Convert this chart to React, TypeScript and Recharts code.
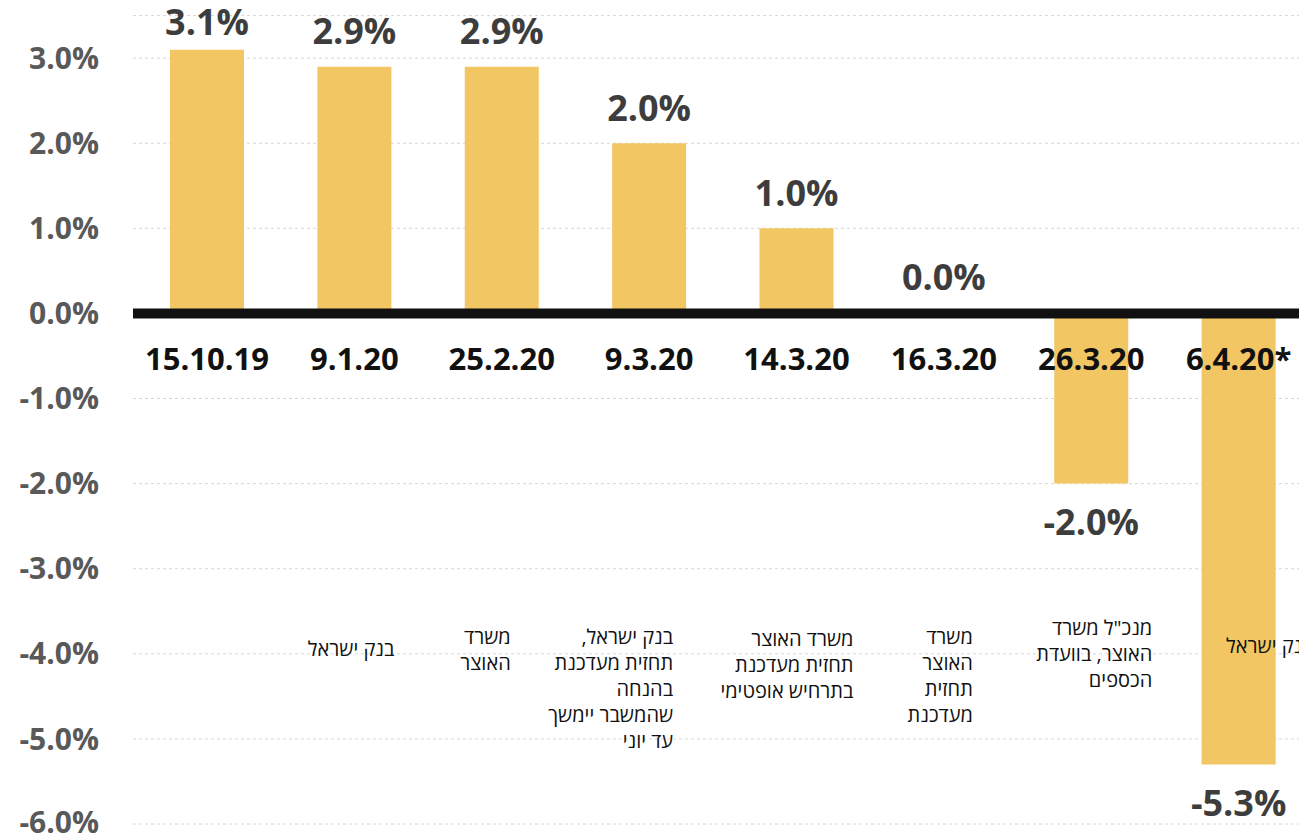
import React from "react";
import {
  BarChart,
  Bar,
  XAxis,
  YAxis,
  CartesianGrid,
  ReferenceLine,
  LabelList,
} from "recharts";

const dates = [
  "15.10.19",
  "9.1.20",
  "25.2.20",
  "9.3.20",
  "14.3.20",
  "16.3.20",
  "26.3.20",
  "6.4.20*",
];

const growth = [3.1, 2.9, 2.9, 2.0, 1.0, 0.0, -2.0, -5.3];

const sources = [
  [],
  ["בנק ישראל"],
  ["משרד", "האוצר"],
  ["בנק ישראל,", "תחזית מעדכנת", "בהנחה", "שהמשבר יימשך", "עד יוני"],
  ["משרד האוצר", "תחזית מעדכנת", "בתרחיש אופטימי"],
  ["משרד", "האוצר", "תחזית", "מעדכנת"],
  ['מנכ"ל משרד', "האוצר, בוועדת", "הכספים"],
  ["בנק ישראל"],
];

const yTicks = [3, 2, 1, 0, -1, -2, -3, -4, -5, -6];

// where each source note sits: right edge from bar centre, first line from the zero line
const noteLayout = [
  { dx: 0, dy: 0 },
  { dx: 40, dy: 336 },
  { dx: 9, dy: 324 },
  { dx: 24, dy: 324 },
  { dx: 57, dy: 326 },
  { dx: 29, dy: 324 },
  { dx: 61, dy: 315 },
  { dx: 74, dy: 333 },
];

const data = dates.map((d, i) => ({ date: d, growth: growth[i] }));

const FONT = "'Open Sans', 'Noto Sans', sans-serif";

// geometry of the bar a label belongs to; i is looked up from the date
const barBox = (p: any) => {
  const vb = p.viewBox && p.viewBox.width !== undefined ? p.viewBox : p;
  const x = Number(vb.x);
  const y = Number(vb.y);
  const w = Number(vb.width);
  const h = Number(vb.height) || 0;
  const top = Math.min(y, y + h);
  const bottom = Math.max(y, y + h);
  const i = dates.indexOf(String(p.value));
  const v = growth[i];
  return { i, cx: x + w / 2, top, bottom, base: v >= 0 ? bottom : top, v };
};

const renderValue = (p: any) => {
  const { i, cx, top, bottom, v } = barBox(p);
  if (i < 0) return null;
  const cy = v >= 0 ? Math.max(top - 35, 22.5) : bottom + 38.5;
  return (
    <text
      key={`v-${i}`}
      x={cx}
      y={cy}
      dy="0.35em"
      textAnchor="middle"
      fontFamily={FONT}
      fontSize={36}
      fontWeight={700}
      fill="#3d3d3d"
    >
      {`${v.toFixed(1)}%`}
    </text>
  );
};

const renderDate = (p: any) => {
  const { i, cx, base } = barBox(p);
  if (i < 0) return null;
  return (
    <text
      key={`d-${i}`}
      x={cx}
      y={base + 46}
      dy="0.35em"
      textAnchor="middle"
      fontFamily={FONT}
      fontSize={31}
      fontWeight={700}
      fill="#111"
    >
      {dates[i]}
    </text>
  );
};

const renderNote = (p: any) => {
  const { i, cx, base } = barBox(p);
  if (i < 0) return null;
  const lines = sources[i];
  const lay = noteLayout[i];
  if (!lines.length) return null;
  return (
    <g key={`n-${i}`}>
      {lines.map((line, j) => (
        <text
          key={j}
          x={cx + lay.dx}
          y={base + lay.dy + j * 26}
          dy="0.35em"
          direction="rtl"
          textAnchor="start"
          fontFamily={FONT}
          fontSize={20}
          fill="#111"
        >
          {line}
        </text>
      ))}
    </g>
  );
};

export default function App() {
  return (
    <div
      style={{
        position: "absolute",
        left: 0,
        top: 0,
        width: 1299,
        height: 839,
        overflow: "hidden",
        background: "#fff",
      }}
    >
      <BarChart
        width={1312}
        height={839}
        data={data}
        margin={{ top: 15.6, right: 0, bottom: 15, left: 0 }}
      >
        <CartesianGrid
          vertical={false}
          strokeDasharray="3 3"
          stroke="#d6d6d6"
        />
        <XAxis dataKey="date" hide />
        <YAxis
          width={133}
          domain={[-6, 3.5]}
          ticks={yTicks}
          tickFormatter={(v: number) => `${v.toFixed(1)}%`}
          axisLine={false}
          tickLine={false}
          tickSize={0}
          tickMargin={34}
          tick={{
            fontSize: 30,
            fontWeight: 700,
            fill: "#595959",
            fontFamily: FONT,
          }}
        />
        <Bar
          dataKey="growth"
          fill="#F2C663"
          barSize={74}
          minPointSize={1}
          isAnimationActive={false}
        >
          <LabelList dataKey="date" content={renderNote} />
          <LabelList dataKey="date" content={renderValue} />
          <LabelList dataKey="date" content={renderDate} />
        </Bar>
        <ReferenceLine y={0} stroke="#111" strokeWidth={10} />
      </BarChart>
    </div>
  );
}
